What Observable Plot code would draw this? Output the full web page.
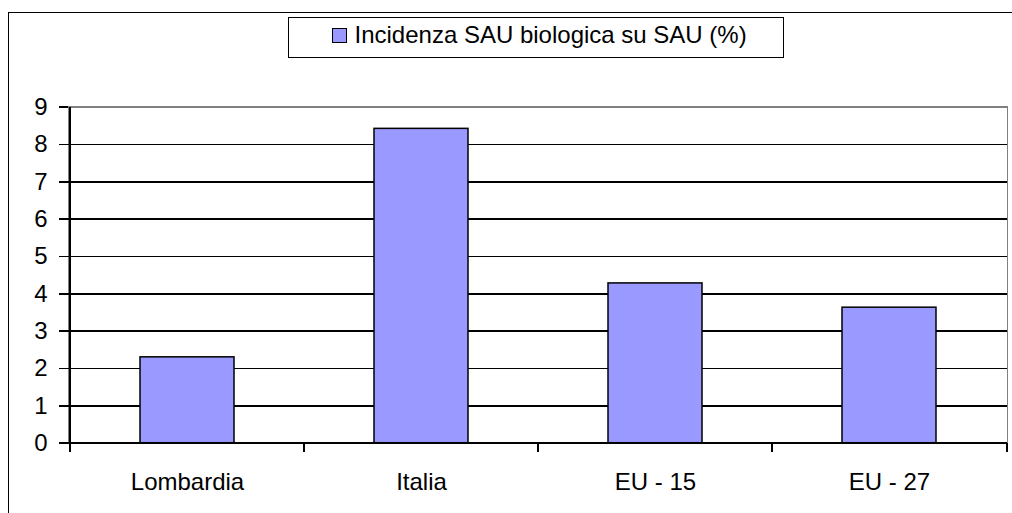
<!DOCTYPE html>
<html><head><meta charset="utf-8">
<script src="https://cdn.jsdelivr.net/npm/d3@7"></script>
<script src="https://cdn.jsdelivr.net/npm/@observablehq/plot@0.6"></script>
<style>
body{margin:0;background:#fff;font-family:"Liberation Sans",Arial,sans-serif;}
#wrap{position:relative;width:1012px;height:513px;overflow:hidden;background:#fff;}
#frame{position:absolute;left:8px;top:12px;width:1100px;height:600px;border-left:1.5px solid #000;border-top:1.5px solid #000;z-index:2;pointer-events:none;}
#legend{position:absolute;left:288px;top:17px;width:494px;height:39px;border:1.5px solid #000;background:#fff;}
#swatch{position:absolute;left:42.5px;top:9.5px;width:15px;height:15px;box-sizing:border-box;border:1.5px solid #000;background:#9999ff;}
#ltext{position:absolute;left:65.5px;top:5.4px;font-size:24px;line-height:24px;white-space:nowrap;color:#000;}
#chart{position:absolute;left:0;top:60px;}
#chart svg{background:transparent !important;}
</style></head>
<body>
<div id="wrap">
  <div id="frame"></div>
  <div id="legend"><div id="swatch"></div><div id="ltext"></div></div>
  <div id="chart"></div>
</div>
<script>
const categories = ["Lombardia", "Italia", "EU - 15", "EU - 27"];
const values = [2.3, 8.42, 4.28, 3.63];
const yTicks = [0, 1, 2, 3, 4, 5, 6, 7, 8, 9];
const gridValues = [1, 2, 3, 4, 5, 6, 7, 8];
const seriesName = "Incidenza SAU biologica su SAU (%)";

document.getElementById("ltext").textContent = seriesName;

const data = categories.map((c, i) => ({cat: c, value: values[i]}));

const width = 1012, height = 453;
const marginLeft = 68, marginRight = 5, marginTop = 46.7, marginBottom = 70.3;
const step = (width - marginLeft - marginRight) / categories.length;
const lineStyle = {stroke: "#000", strokeWidth: 1.5, shapeRendering: "crispEdges"};

const chart = Plot.plot({
  width, height, marginLeft, marginRight, marginTop, marginBottom,
  style: {fontFamily: "'Liberation Sans', Arial, sans-serif", background: "transparent", color: "#000"},
  x: {domain: categories, paddingInner: 0.6, paddingOuter: 0.3, axis: null},
  y: {domain: [0, 9], axis: null},
  marks: [
    Plot.frame({stroke: "#808080", strokeWidth: 1.5, shapeRendering: "crispEdges"}),
    Plot.ruleY(gridValues, lineStyle),
    Plot.barY(data, {x: "cat", y: "value", fill: "#9999ff", stroke: "#000", strokeWidth: 1.5}),
    Plot.ruleY([0], lineStyle),
    Plot.ruleX(categories, {x: d => d, y1: d => d === categories[0] ? 9 : 0, y2: 0, insetBottom: -9, dx: -step / 2, ...lineStyle}),
    Plot.ruleX([categories[categories.length - 1]], {x: d => d, y1: 0, y2: 0, insetBottom: -9, dx: step / 2, ...lineStyle}),
    Plot.axisY({ticks: yTicks, tickSize: 9, tickPadding: 12, fontSize: 24, label: null, stroke: "#000", strokeWidth: 1.5, shapeRendering: "crispEdges", tickFormat: d => String(d)}),
    Plot.axisX({tickSize: 0, tickPadding: 30, fontSize: 24, label: null})
  ]
});
document.getElementById("chart").appendChild(chart);
</script>
</body></html>
